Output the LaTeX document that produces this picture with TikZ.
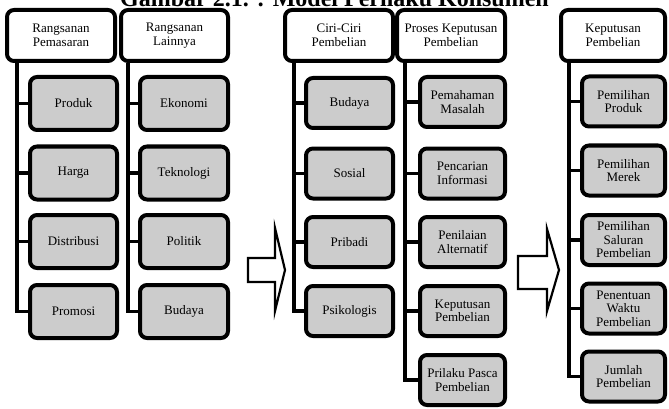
\documentclass[tikz,border=0pt]{standalone}
\usepackage{fontspec}
\setmainfont{Liberation Serif}
\usetikzlibrary{arrows.meta}

\begin{document}
\begin{tikzpicture}[x=1pt,y=-1pt,
  font=\fontsize{13}{13.5}\selectfont,
  hdr/.style={draw,line width=4pt,rounded corners=7pt,fill=white,align=center,inner sep=1pt,minimum height=51pt},
  sub/.style={draw,line width=4pt,rounded corners=7pt,fill=black!20,align=center,inner sep=1pt,minimum height=50pt},
  link/.style={line width=3.5pt},
  bigarrow/.style={draw,line width=2.2pt,fill=white}]
\useasboundingbox (0,0) rectangle (669,409);
\node[font=\bfseries\fontsize{24}{26}\selectfont,anchor=base] (judul) at (334.5,6.5) {Gambar 2.1. : Model Perilaku Konsumen};

\node[hdr,minimum width=108pt] (rpem) at (61,35.5) {Rangsanan\\Pemasaran};
\node[hdr,minimum width=107pt] (rlain) at (174.5,35.5) {Rangsanan\\Lainnya};
\node[hdr,minimum width=108pt] (ciri) at (339,35.5) {Ciri-Ciri\\Pembelian};
\node[hdr,minimum width=108pt] (proses) at (451,35.5) {Proses Keputusan\\Pembelian};
\node[hdr,minimum width=104pt] (kep) at (613,35.5) {Keputusan\\Pembelian};

\node[sub,minimum width=87pt,minimum height=53pt] (produk) at (73.5,103.5) {Produk};
\node[sub,minimum width=87pt,minimum height=53pt] (harga) at (73.5,173) {Harga};
\node[sub,minimum width=87pt,minimum height=53pt] (distribusi) at (73.5,241.5) {Distribusi};
\node[sub,minimum width=87pt,minimum height=53pt] (promosi) at (73.5,311.5) {Promosi};

\node[sub,minimum width=88pt,minimum height=53pt] (ekonomi) at (184,103.5) {Ekonomi};
\node[sub,minimum width=88pt,minimum height=53pt] (teknologi) at (184,173) {Teknologi};
\node[sub,minimum width=88pt,minimum height=53pt] (politik) at (184,241.5) {Politik};
\node[sub,minimum width=88pt,minimum height=53pt] (budaya1) at (184,311.5) {Budaya};

\node[sub,minimum width=87pt] (budaya2) at (349.5,103) {Budaya};
\node[sub,minimum width=87pt] (sosial) at (349.5,173.5) {Sosial};
\node[sub,minimum width=87pt] (pribadi) at (349.5,242) {Pribadi};
\node[sub,minimum width=87pt] (psikologis) at (349.5,311) {Psikologis};

\node[sub,minimum width=85pt] (pemahaman) at (462.5,102) {Pemahaman\\Masalah};
\node[sub,minimum width=85pt] (pencarian) at (462.5,173.5) {Pencarian\\Informasi};
\node[sub,minimum width=85pt] (penilaian) at (462.5,242) {Penilaian\\Alternatif};
\node[sub,minimum width=85pt] (keputusan) at (462.5,311) {Keputusan\\Pembelian};
\node[sub,minimum width=85pt] (prilaku) at (462.5,380) {Prilaku Pasca\\Pembelian};

\node[sub,minimum width=83pt] (pproduk) at (623.5,101.5) {Pemilihan\\Produk};
\node[sub,minimum width=83pt] (pmerek) at (623.5,170.5) {Pemilihan\\Merek};
\node[sub,minimum width=83pt] (psaluran) at (623.5,240) {Pemilihan\\Saluran\\Pembelian};
\node[sub,minimum width=83pt] (pwaktu) at (623.5,308.5) {Penentuan\\Waktu\\Pembelian};
\node[sub,minimum width=83pt] (jumlah) at (623.5,376.5) {Jumlah\\Pembelian};

% trunks
\coordinate (t1) at ([xshift=12]rpem.south west);
\coordinate (t2) at ([xshift=9]rlain.south west);
\coordinate (t3) at ([xshift=11]ciri.south west);
\coordinate (t4) at ([xshift=10]proses.south west);
\coordinate (t5) at ([xshift=10]kep.south west);

\draw[link] (t1) |- (promosi.west);
\draw[link] (produk.west) -- (produk.west -| t1);
\draw[link] (harga.west) -- (harga.west -| t1);
\draw[link] (distribusi.west) -- (distribusi.west -| t1);

\draw[link] (t2) |- (budaya1.west);
\draw[link] (ekonomi.west) -- (ekonomi.west -| t2);
\draw[link] (teknologi.west) -- (teknologi.west -| t2);
\draw[link] (politik.west) -- (politik.west -| t2);

\draw[link] (t3) |- (psikologis.west);
\draw[link] (budaya2.west) -- (budaya2.west -| t3);
\draw[link] (sosial.west) -- (sosial.west -| t3);
\draw[link] (pribadi.west) -- (pribadi.west -| t3);

\draw[link] (t4) |- (prilaku.west);
\draw[link] (pemahaman.west) -- (pemahaman.west -| t4);
\draw[link] (pencarian.west) -- (pencarian.west -| t4);
\draw[link] (penilaian.west) -- (penilaian.west -| t4);
\draw[link] (keputusan.west) -- (keputusan.west -| t4);

\draw[link] (t5) |- (jumlah.west);
\draw[link] (pproduk.west) -- (pproduk.west -| t5);
\draw[link] (pmerek.west) -- (pmerek.west -| t5);
\draw[link] (psaluran.west) -- (psaluran.west -| t5);
\draw[link] (pwaktu.west) -- (pwaktu.west -| t5);

% big arrows
\draw[bigarrow] (248,258) -- (275,258) -- (275,228) -- (285,270) -- (275,311) -- (275,282) -- (248,282) -- cycle;
\draw[bigarrow] (518,256) -- (547,256) -- (547,229) -- (559,270) -- (547,311) -- (547,289) -- (518,289) -- cycle;
\end{tikzpicture}
\end{document}
